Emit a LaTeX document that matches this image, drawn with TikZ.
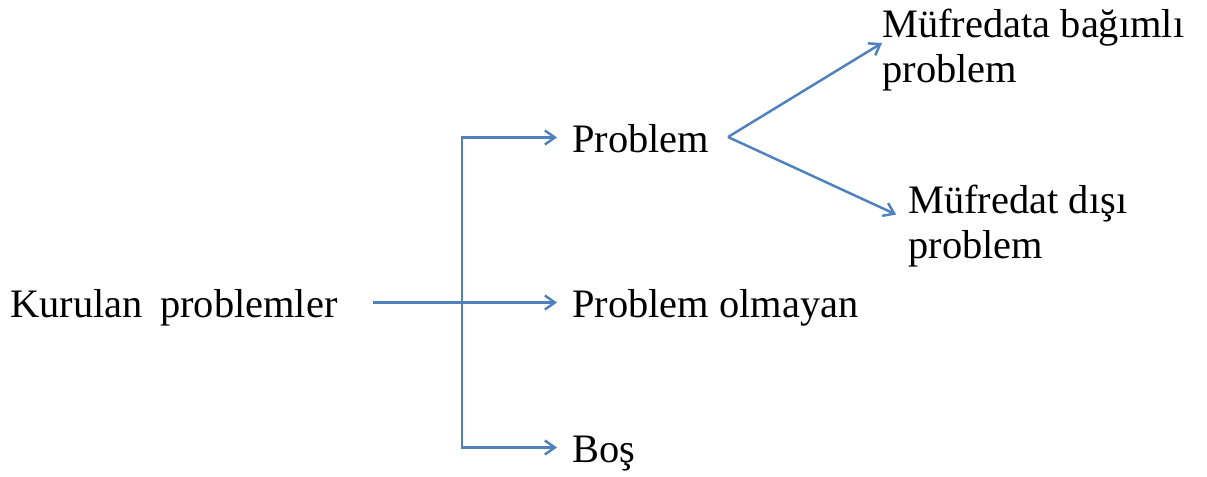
\documentclass[tikz,border=0pt]{standalone}
\usepackage{fontspec}
\setmainfont{Liberation Serif}
\usetikzlibrary{arrows.meta,positioning,calc}

\definecolor{linkblue}{RGB}{79,129,189}

\begin{document}
\begin{tikzpicture}[
    font=\fontsize{23pt}{25.6pt}\selectfont,
    arrow/.style={
        -{Straight Barb[length=2mm,width=2.8mm]},
        draw=linkblue,
        line width=1.4pt,
        shorten >=0.3cm
    },
    label/.style={
        inner sep=0pt,
        anchor=base west,
        text height=0.75cm,
        text depth=0.17cm
    },
    twoline/.style={
        inner sep=0pt,
        anchor=west,
        align=left
    }
]

\useasboundingbox (0,0) rectangle (24.14,9.52);

% Root
\node[label] (kp) at (0.2,3.18) {Kurulan\hspace{0.43em}problemler};

% First level
\node[label] (prob) at (11.44,6.48) {Problem};
\node[label] (pol) at (11.44,3.18) {Problem olmayan};
\node[label] (bos) at (11.44,0.28) {Boş};

% Second level
\node[twoline] (mufa) at (17.64,8.52) {Müfredata bağımlı\\problem};
\node[twoline] (disi) at (18.16,5.0) {Müfredat dışı\\problem};

% Branch points
\coordinate (split) at (9.24,3.46);
\coordinate (fork) at (14.56,6.78);

% Connectors
\draw[arrow, shorten <=0.7cm] (kp.east) -- (pol.west);
\draw[arrow] (split) |- (prob.west);
\draw[arrow] (split) |- (bos.west);
\draw[arrow, shorten >=0pt] (fork) -- ([yshift=0.14cm]mufa.west);
\draw[arrow, shorten >=0.26cm] (fork) -- ([yshift=0.12cm]disi.west);

\end{tikzpicture}
\end{document}
